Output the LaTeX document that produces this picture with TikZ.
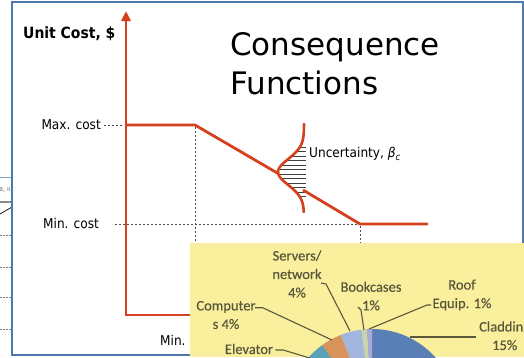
\documentclass[tikz,border=0pt]{standalone}
\usepackage{fontspec}
\setmainfont{DejaVu Sans}
\newfontfamily\tahfont{DejaVu Sans Condensed}
\newfontfamily\calfont[FakeBold=0.25]{Carlito}
\usetikzlibrary{arrows.meta}
\definecolor{slideblue}{HTML}{4C7AAB}
\definecolor{costred}{HTML}{D4411C}
\definecolor{padyellow}{HTML}{F9EF9C}
\definecolor{labolive}{HTML}{57553A}
\definecolor{leadolive}{HTML}{5A583C}
\definecolor{pieblue}{HTML}{5A7FB6}
\definecolor{pielav}{HTML}{A7A9D6}
\definecolor{piegreen}{HTML}{C9D5A6}
\definecolor{pielblue}{HTML}{A2B6DD}
\definecolor{pieorange}{HTML}{D8935C}
\definecolor{pieteal}{HTML}{5BA1B6}
\tikzset{
  redline/.style={costred, line width=2.8pt, line join=miter},
  dotline/.style={black!70, line width=0.8pt, dash pattern=on 2pt off 2pt},
  hatchline/.style={black!75, line width=0.9pt},
  lead/.style={leadolive, line width=1.1pt},
  axlabel/.style={font=\tahfont\fontsize{13.5}{15}\selectfont, inner sep=0pt},
  pielabel/.style={font=\calfont\fontsize{14.5}{18.5}\selectfont, text=labolive, align=center, inner sep=0pt},
}
\begin{document}
\begin{tikzpicture}[x=1pt,y=1pt]
\useasboundingbox (0,0) rectangle (524,-357);
\fill[white] (0,0) rectangle (524,-357);

% fragment of slide behind, on the left
\begin{scope}
\clip (0,0) rectangle (12,-357);
\draw[slideblue!70, line width=1pt] (0,-177) -- (12,-177);
\node[anchor=west, font=\tahfont\fontsize{7}{8}\selectfont, text=black!60, inner sep=0pt] (frag) at (-1,-190) {a, ıı};
\draw[black!45, line width=1.2pt] (0,-202) -- (12,-202);
\draw[black, line width=0.7pt] (0,-214) -- (12,-207);
\foreach \yy in {235,267,297,329} \draw[black!50, line width=0.7pt, dash pattern=on 1.5pt off 1.5pt] (0,-\yy) -- (12,-\yy);
\end{scope}

% main slide
\draw[slideblue, line width=1.6pt, fill=white] (12,-2) rectangle (523,-355);

% texts
\node[anchor=west, font=\tahfont\bfseries\fontsize{15.5}{17}\selectfont, inner sep=0pt] (ylab) at (23,-34) {Unit Cost, \$};
\node[anchor=west, font=\fontsize{31}{36}\selectfont, inner sep=0pt] (t1) at (230,-47) {Consequence};
\node[anchor=west, font=\fontsize{31}{36}\selectfont, inner sep=0pt] (t2) at (230,-83) {Functions};
\node[axlabel, anchor=east] (maxc) at (101,-125) {Max. cost};
\node[axlabel, anchor=west] (minc) at (43,-223) {Min. cost};
\node[axlabel, anchor=west] (unc) at (309,-154) {Uncertainty, {\itshape β\raisebox{-0.4ex}{\fontsize{9.5}{10}\selectfont c}}};
\node[axlabel, anchor=west] (minx) at (160,-340) {Min.};

% dotted guides
\draw[dotline] (104,-125) -- (122,-125);
\draw[dotline] (115,-224) -- (360,-224);
\draw[dotline] (195,-127) -- (195,-315);
\draw[dotline] (360,-226) -- (360,-245);

% hatching of uncertainty distribution
\foreach \yy in {147,151.5,...,198} {
  \pgfmathsetmacro\xx{304-26*exp(-0.5*((\yy-172)/13)*((\yy-172)/13))}
  \draw[hatchline] (\xx,-\yy) -- (306,-\yy);
}

% axes
\draw[costred, line width=2.6pt, -{Triangle[length=10pt,width=9pt]}] (190,-315) -- (126,-315) -- (126,-11);

% consequence function
\draw[redline] (126,-125) -- (195,-125) -- (279,-174);
\draw[redline] (303,-190) -- (360,-224) -- (428,-224);
\draw[costred, line width=2.6pt, line cap=round] plot[domain=124:212, samples=70, variable=\t] ({304-26*exp(-0.5*((\t-172)/13)*((\t-172)/13))},{-\t});

% pie slide
\fill[padyellow] (190,-243) rectangle (524,-357);
\begin{scope}
\clip (190,-243) rectangle (524,-357);
\coordinate (pc) at (372,-414);
\fill[pieblue] (pc) -- ++(20:85pt) arc[start angle=20, end angle=90, radius=85pt] -- cycle;
\fill[pielav] (pc) -- ++(90:85pt) arc[start angle=90, end angle=93.6, radius=85pt] -- cycle;
\fill[piegreen] (pc) -- ++(93.6:85pt) arc[start angle=93.6, end angle=97.2, radius=85pt] -- cycle;
\fill[pielblue] (pc) -- ++(97.2:85pt) arc[start angle=97.2, end angle=111.6, radius=85pt] -- cycle;
\fill[pieorange] (pc) -- ++(111.6:85pt) arc[start angle=111.6, end angle=126, radius=85pt] -- cycle;
\fill[pieteal] (pc) -- ++(126:85pt) arc[start angle=126, end angle=170, radius=85pt] -- cycle;

\node[pielabel] (lserv) at (297,-274) {Servers/\\network\\4\%};
\node[pielabel] (lbook) at (371,-296) {Bookcases\\1\%};
\node[pielabel] (lroof) at (462,-295) {Roof\\Equip. 1\%};
\node[pielabel, anchor=west] (lclad) at (479,-337) {\begin{tabular}{@{}c@{}}Cladding\\15\%\end{tabular}};
\node[pielabel] (lcomp) at (226,-315) {Computer\\s 4\%};
\node[pielabel] (lelev) at (249,-349) {Elevator};

\draw[lead] (lcomp.north east) ++(-1,-7) -- ++(8,0) -- (332,-340);
\draw[lead] (321,-283) -- (326,-284) -- (350,-331);
\draw[lead] (358,-307) -- (361,-310) -- (364,-330);
\draw[lead] (431,-305) -- (427,-305) -- (369,-329);
\draw[lead] (476,-337) -- (410,-337);
\draw[lead] (lelev.east) ++(2,-1) -- ++(8,0) -- (316,-360);
\end{scope}
\end{tikzpicture}
\end{document}
